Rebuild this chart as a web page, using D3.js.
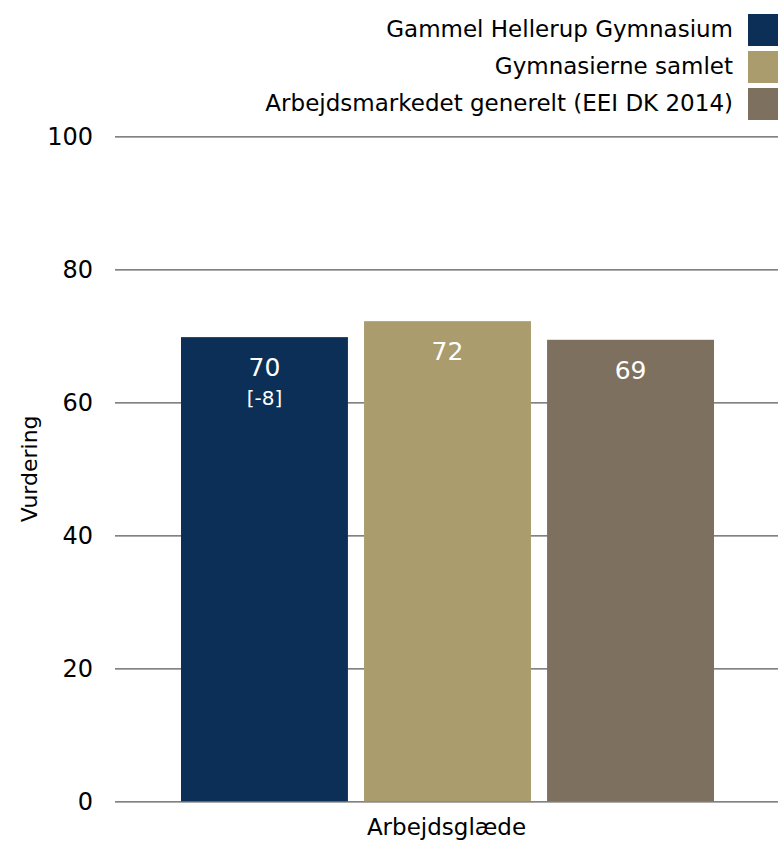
<!DOCTYPE html>
<html><head><meta charset="utf-8">
<script src="https://cdn.jsdelivr.net/npm/d3@7"></script>
<style>body{margin:0;background:#fff}svg{display:block}</style>
</head><body>
<svg id="c" width="778" height="842"></svg>
<script>
const categories = ["Arbejdsglæde"];
const seriesNames = ["Gammel Hellerup Gymnasium", "Gymnasierne samlet", "Arbejdsmarkedet generelt (EEI DK 2014)"];
const seriesValues = [69.8, 72.2, 69.4];
const valueLabels = ["70", "72", "69"];
const subLabels = ["[-8]", "", ""];
const colors = ["#0c2f57", "#aa9c6d", "#7d705f"];
const yTicks = [0, 20, 40, 60, 80, 100];

const font = "'DejaVu Sans', Verdana, sans-serif";
const svg = d3.select("#c");
const m = {l: 115, r: 778, t: 136.3, b: 801.3};

const y = d3.scaleLinear().domain([0, 100]).range([m.b, m.t]);
const x0 = d3.scaleBand().domain(categories).range([m.l, m.r]).paddingInner(0).paddingOuter(0);
// inner band scale spanning the bar group
const groupX = d3.scaleBand().domain(seriesNames).range([181, 714]).paddingInner(0.088).paddingOuter(0);

// grid
const yAxis = d3.axisLeft(y).tickValues(yTicks).tickSize(-(m.r - m.l)).tickPadding(22);
const ga = svg.append("g").attr("transform", `translate(${m.l},0)`).call(yAxis);
ga.select(".domain").remove();
ga.selectAll(".tick line").attr("stroke", "#595959").attr("stroke-width", 1.3);
ga.selectAll(".tick text").attr("font-family", font).attr("font-size", 24).attr("fill", "#000")
  .attr("dy", "0.36em");

// bars
const bars = svg.append("g");
seriesNames.forEach((s, i) => {
  bars.append("rect")
    .attr("x", groupX(s)).attr("width", groupX.bandwidth())
    .attr("y", y(seriesValues[i])).attr("height", y(0) - y(seriesValues[i]))
    .attr("fill", colors[i]);
  bars.append("text")
    .attr("x", groupX(s) + groupX.bandwidth()/2).attr("y", y(seriesValues[i]) + 39)
    .attr("text-anchor", "middle").attr("font-family", font).attr("font-size", 25)
    .attr("fill", "#fff").text(valueLabels[i]);
  if (subLabels[i]) {
    bars.append("text")
      .attr("x", groupX(s) + groupX.bandwidth()/2).attr("y", y(seriesValues[i]) + 68)
      .attr("text-anchor", "middle").attr("font-family", font).attr("font-size", 20)
      .attr("fill", "#fff").text(subLabels[i]);
  }
});

// x axis label
const xAxis = d3.axisBottom(x0).tickSize(0).tickPadding(17);
const gx = svg.append("g").attr("transform", `translate(0,${m.b})`).call(xAxis);
gx.select(".domain").remove();
gx.selectAll(".tick text").attr("font-family", font).attr("font-size", 23).attr("fill", "#000");

// y title
svg.append("text").attr("transform", `translate(37,${(m.t + m.b)/2}) rotate(-90)`)
  .attr("text-anchor", "middle").attr("font-family", font).attr("font-size", 22).text("Vurdering");

// legend
const lg = svg.append("g");
seriesNames.forEach((s, i) => {
  const yy = 14 + i * 37;
  lg.append("rect").attr("x", 748).attr("y", yy).attr("width", 31).attr("height", 32).attr("fill", colors[i]);
  lg.append("text").attr("x", 733).attr("y", yy + 23).attr("text-anchor", "end")
    .attr("font-family", font).attr("font-size", 23).text(s);
});
</script>
</body></html>
